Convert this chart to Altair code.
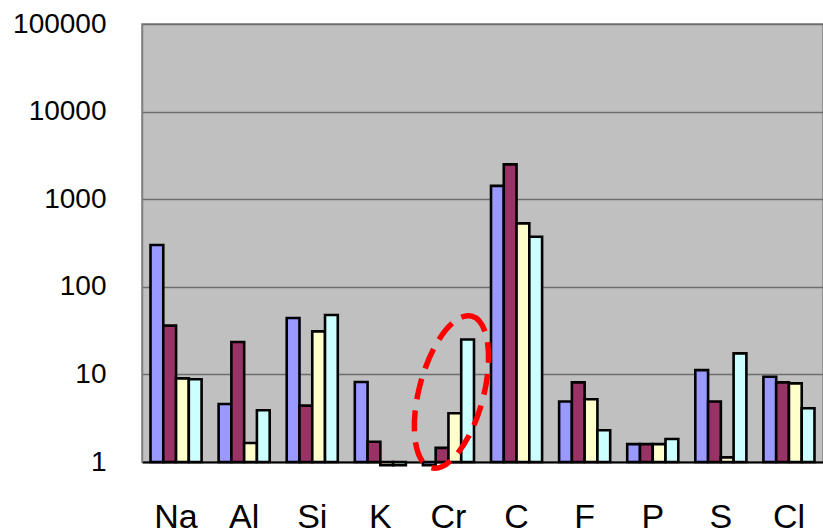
import altair as alt
import pandas as pd

elements = ["Na", "Al", "Si", "K", "Cr", "C", "F", "P", "S", "Cl"]
series_names = ["Series1", "Series2", "Series3", "Series4"]
series1 = [300, 4.6, 44, 8.2, 0.92, 1420, 4.9, 1.6, 11.2, 9.4]
series2 = [36, 23.4, 4.4, 1.7, 1.45, 2500, 8.1, 1.6, 4.9, 8.1]
series3 = [9.0, 1.65, 31, 0.92, 3.6, 530, 5.2, 1.6, 1.13, 7.9]
series4 = [8.8, 3.9, 47.7, 0.92, 25, 373, 2.3, 1.83, 17.4, 4.1]
colors = ["#9999FF", "#993366", "#FFFFCC", "#CCFFFF"]
y_ticks = [1, 10, 100, 1000, 10000, 100000]

rows = []
for name, vals in zip(series_names, [series1, series2, series3, series4]):
    for el, v in zip(elements, vals):
        rows.append({"element": el, "series": name, "value": v})
df = pd.DataFrame(rows)

FONT = "Liberation Sans"

x_enc = alt.X(
    "element:N",
    sort=elements,
    scale=alt.Scale(paddingInner=0.25, paddingOuter=0.125),
    axis=alt.Axis(
        title=None,
        labelAngle=0,
        labelFontSize=34,
        labelFont=FONT,
        labelColor="black",
        labelBaseline="alphabetic",
        labelPadding=65,
        ticks=False,
        domainColor="black",
        domainWidth=2,
        grid=False,
    ),
)

bars = alt.Chart(df).mark_bar(stroke="black", strokeWidth=2.6, clip=False).encode(
    x=x_enc,
    xOffset=alt.XOffset("series:N", sort=series_names,
                        scale=alt.Scale(paddingInner=0, paddingOuter=0)),
    y=alt.Y(
        "value:Q",
        scale=alt.Scale(type="log", domain=[1, 100000], nice=False),
        axis=alt.Axis(
            title=None,
            values=y_ticks,
            format="d",
            labelFontSize=28,
            labelFont=FONT,
            labelColor="black",
            labelPadding=36,
            ticks=False,
            domainColor="#808080",
            domainWidth=1.5,
            grid=True,
            gridColor="#6e6e6e",
            gridWidth=1.4,
        ),
    ),
    y2=alt.datum(1),
    color=alt.Color("series:N", sort=series_names,
                    scale=alt.Scale(domain=series_names, range=colors),
                    legend=None),
)

highlight = pd.DataFrame({"element": ["Cr"], "value": [6.3]})
ellipse_path = "M0,-1 A0.41,1 0 1,1 0,1 A0.41,1 0 1,1 0,-1 Z"
ellipse = alt.Chart(highlight).mark_point(
    shape=ellipse_path,
    size=24649,
    angle=15,
    filled=False,
    stroke="#FF0000",
    strokeWidth=5.5,
    strokeDash=[21, 11],
    opacity=1,
    xOffset=3,
    clip=False,
).encode(
    x=alt.X("element:N", sort=elements),
    y=alt.Y("value:Q"),
)

chart = alt.layer(bars, ellipse).properties(
    width=681,
    height=438,
    autosize=alt.AutoSizeParams(type="none"),
    padding={"left": 142, "top": 24, "right": 0, "bottom": 68},
    background="white",
).configure_view(fill="#C0C0C0", stroke="#808080", strokeWidth=1.5)

chart.save("out.html", embed_options={"renderer": "svg", "actions": False})
